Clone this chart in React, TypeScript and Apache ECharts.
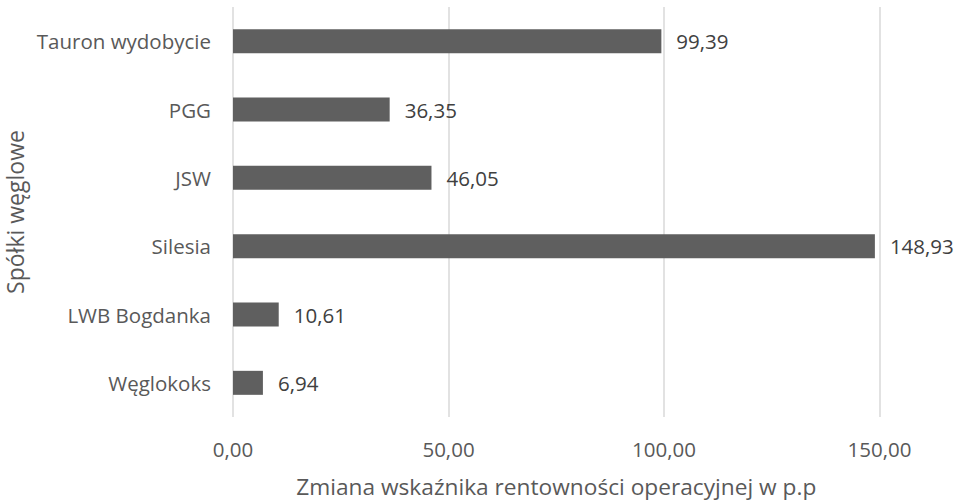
import React, { useEffect, useRef } from "react";
import * as echarts from "echarts";

const categories = ["Tauron wydobycie", "PGG", "JSW", "Silesia", "LWB Bogdanka", "Węglokoks"];
const values = [99.39, 36.35, 46.05, 148.93, 10.61, 6.94];
const xTicks = [0, 50, 100, 150];

const fmt = (v: number) => v.toFixed(2).replace(".", ",");

export default function App() {
  const ref = useRef<HTMLDivElement>(null);
  useEffect(() => {
    document.body.style.margin = "0";
    const chart = echarts.init(ref.current!, null, { renderer: "svg" });
    const textColor = "#595959";
    const font = "'Open Sans', 'Noto Sans', sans-serif";
    chart.setOption({
      animation: false,
      backgroundColor: "#ffffff",
      textStyle: { fontFamily: font },
      grid: { left: 233, right: 75.5, top: 7, bottom: 84, outerBoundsMode: "none", containLabel: false },
      xAxis: {
        type: "value",
        min: xTicks[0],
        max: xTicks[xTicks.length - 1],
        interval: 50,
        name: "Zmiana wskaźnika rentowności operacyjnej w p.p",
        nameLocation: "middle",
        nameGap: 58,
        nameMoveOverlap: false,
        nameTextStyle: { color: textColor, fontSize: 22.7, fontFamily: font },
        axisLine: { show: false },
        axisTick: { show: false },
        axisLabel: { color: textColor, fontSize: 20.5, margin: 21, formatter: (v: number) => fmt(v), fontFamily: font },
        splitLine: { show: true, lineStyle: { color: "#d9d9d9", width: 1.5 } },
      },
      yAxis: {
        type: "category",
        data: categories,
        inverse: true,
        name: "Spółki węglowe",
        nameLocation: "middle",
        nameGap: 205,
        nameMoveOverlap: false,
        nameTextStyle: { color: textColor, fontSize: 23, fontFamily: font, lineHeight: 26 },
        axisLine: { show: false },
        axisTick: { show: false },
        axisLabel: { color: textColor, fontSize: 20.5, margin: 22, fontFamily: font },
        splitLine: { show: false },
      },
      series: [
        {
          type: "bar",
          data: values,
          barWidth: 24,
          itemStyle: { color: "#5f5f5f" },
          label: {
            show: true,
            position: "right",
            distance: 15,
            color: "#404040",
            fontSize: 20.5,
            fontFamily: font,
            formatter: (p: any) => fmt(p.value),
          },
        },
      ],
    });
    return () => chart.dispose();
  }, []);
  return <div ref={ref} style={{ width: 955, height: 501 }} />;
}
